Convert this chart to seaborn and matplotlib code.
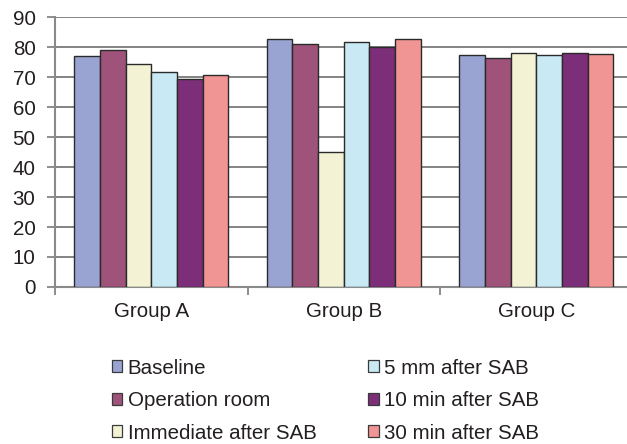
import matplotlib
matplotlib.use("Agg")
import matplotlib.pyplot as plt
import seaborn as sns
import pandas as pd

groups = ["Group A", "Group B", "Group C"]
times = ["Baseline", "Operation room", "Immediate after SAB",
         "5 mm after SAB", "10 min after SAB", "30 min after SAB"]

# values per time point, one entry per group (A, B, C)
baseline = [77.1, 82.8, 77.2]
operation_room = [79.0, 80.9, 76.2]
immediate_after = [74.4, 44.9, 78.1]
five_min_after = [71.6, 81.8, 77.2]
ten_min_after = [69.3, 80.0, 78.1]
thirty_min_after = [70.6, 82.8, 77.7]

series = [baseline, operation_room, immediate_after,
          five_min_after, ten_min_after, thirty_min_after]
colors = ["#9aa4d2", "#a0537a", "#f4f2d4", "#c9e9f4", "#7d2e79", "#f09593"]
y_ticks = list(range(0, 91, 10))

rows = []
for t, vals in zip(times, series):
    for g, v in zip(groups, vals):
        rows.append({"group": g, "time": t, "value": v})
df = pd.DataFrame(rows)

sns.set_theme(style="white")
plt.rcParams["font.family"] = ["Liberation Sans", "DejaVu Sans"]

fig = plt.figure(figsize=(6.27, 4.44), dpi=100)
ax = fig.add_axes([55 / 627, (444 - 287) / 444, 577.5 / 627, 270 / 444])

sns.barplot(data=df, x="group", y="value", hue="time", order=groups,
            hue_order=times, palette=colors, edgecolor="#2a2a2a",
            linewidth=1.0, width=0.8, saturation=1, ax=ax, legend=False,
            zorder=3)

ax.set_xlim(-0.5, 2.5)
ax.set_ylim(0, 90)
ax.set_yticks(y_ticks)
ax.set_xlabel("")
ax.set_ylabel("")

ax.yaxis.grid(True, color="#7a7a7a", linewidth=1.3, zorder=0)
ax.set_axisbelow(True)
for s in ["top", "right"]:
    ax.spines[s].set_visible(False)
for s in ["left", "bottom"]:
    ax.spines[s].set_color("#8a8a8a")
    ax.spines[s].set_linewidth(1.5)

ax.tick_params(axis="y", which="major", direction="out", length=5.5,
               width=1.2, color="#7a7a7a", labelsize=14.8,
               labelcolor="#231f20", pad=8.5, left=True)
ax.tick_params(axis="x", which="major", length=0, labelsize=14.8,
               labelcolor="#231f20", pad=11)
ax.set_xticks([-0.5, 0.5, 1.5], minor=True)
ax.tick_params(axis="x", which="minor", direction="out", length=6,
               width=1.2, color="#7a7a7a", bottom=True)

handles = [plt.Rectangle((0, 0), 1, 1, facecolor=c, edgecolor="#3a3a3a",
                         linewidth=0.9) for c in colors]
fig.legend(handles, times, loc="upper left",
           bbox_to_anchor=(111.5 / 627, 1 - 358.5 / 444), ncol=2,
           frameon=False, fontsize=14.8, handlelength=0.53,
           handleheight=0.53, handletextpad=0.25, columnspacing=2.5,
           labelspacing=0.66, borderpad=0, borderaxespad=0,
           labelcolor="#231f20")

fig.savefig("out.png", dpi=100)
